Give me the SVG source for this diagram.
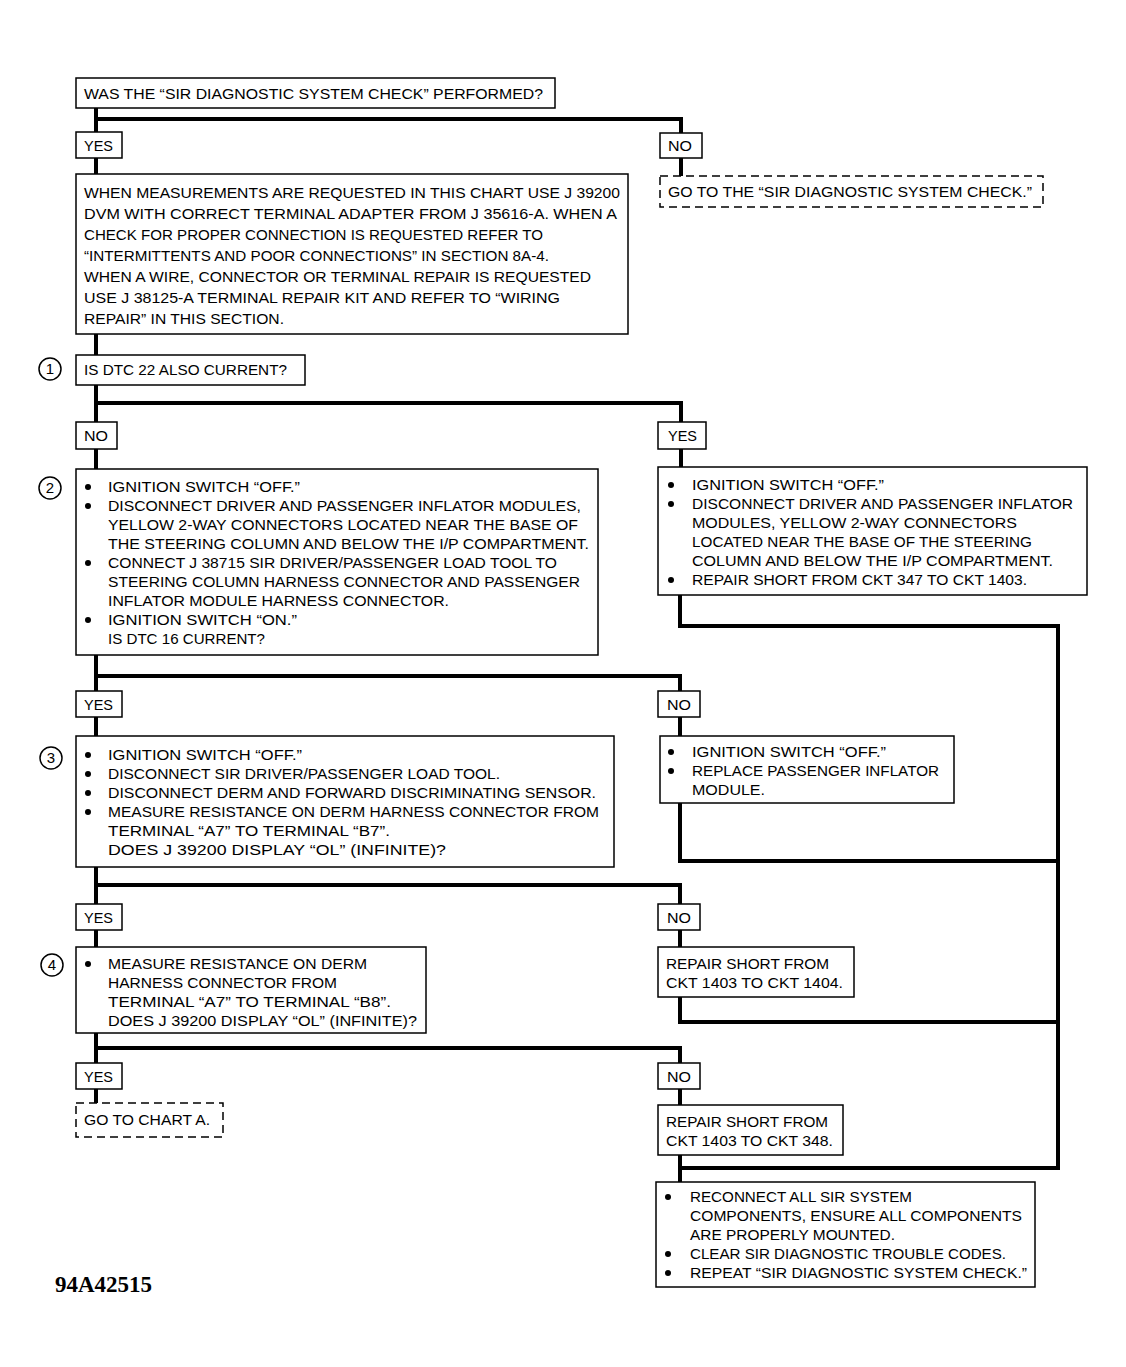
<svg xmlns="http://www.w3.org/2000/svg" width="1126" height="1367" viewBox="0 0 1126 1367">
<style>
.bx{fill:#fff;stroke:#000;stroke-width:1.5}
.ds{fill:#fff;stroke:#000;stroke-width:1.5;stroke-dasharray:8 5}
.t{font-family:"Liberation Sans",Arial,sans-serif;font-size:15px;fill:#000}
.c{stroke:#000;stroke-width:4;fill:none;stroke-linecap:square}
.cir{fill:#fff;stroke:#000;stroke-width:1.5}
.n{font-family:"Liberation Sans",Arial,sans-serif;font-size:15px;fill:#000;text-anchor:middle}
.id{font-family:"Liberation Serif","Times New Roman",serif;font-size:23px;font-weight:bold;fill:#000}
</style>
<rect width="1126" height="1367" fill="#fff"/>
<g id="connectors">
<path class="c" d="M96 108V132M96 158V174M96 334V355M96 385V422M96 449V469M96 655V691M96 717V736M96 867V904M96 930V947M96 1033V1063M96 1089V1103"/>
<path class="c" d="M96 119H681V133M681 158V176"/>
<path class="c" d="M96 403H681V422M681 449V467M680 595V626H1058V1168H680M680 1155V1182"/>
<path class="c" d="M96 676H680V691M680 717V736M680 803V861H1058"/>
<path class="c" d="M96 885H680V904M680 930V947M680 997V1022H1058"/>
<path class="c" d="M96 1048H680V1063M680 1089V1105"/>
</g>
<g id="q0"><rect class="bx" x="76" y="78" width="479" height="30"/><text class="t" x="84" y="99" textLength="459" lengthAdjust="spacingAndGlyphs">WAS THE “SIR DIAGNOSTIC SYSTEM CHECK” PERFORMED?</text></g>
<g id="yes0"><rect class="bx" x="76" y="132" width="46" height="26"/><text class="t" x="84" y="151" textLength="29" lengthAdjust="spacingAndGlyphs">YES</text></g>
<g id="no0"><rect class="bx" x="660" y="133" width="42" height="25"/><text class="t" x="668" y="151" textLength="24" lengthAdjust="spacingAndGlyphs">NO</text></g>
<g id="goto0"><rect class="ds" x="660" y="176" width="383" height="31"/><text class="t" x="668" y="197" textLength="364" lengthAdjust="spacingAndGlyphs">GO TO THE “SIR DIAGNOSTIC SYSTEM CHECK.”</text></g>
<g id="info"><rect class="bx" x="76" y="174" width="552" height="160"/>
<text class="t" x="84" y="198" textLength="536" lengthAdjust="spacingAndGlyphs">WHEN MEASUREMENTS ARE REQUESTED IN THIS CHART USE J 39200</text>
<text class="t" x="84" y="219" textLength="533" lengthAdjust="spacingAndGlyphs">DVM WITH CORRECT TERMINAL ADAPTER FROM J 35616-A.  WHEN A</text>
<text class="t" x="84" y="240" textLength="459" lengthAdjust="spacingAndGlyphs">CHECK FOR PROPER CONNECTION IS REQUESTED REFER TO</text>
<text class="t" x="84" y="261" textLength="465" lengthAdjust="spacingAndGlyphs">“INTERMITTENTS AND POOR CONNECTIONS” IN SECTION 8A-4.</text>
<text class="t" x="84" y="282" textLength="507" lengthAdjust="spacingAndGlyphs">WHEN A WIRE, CONNECTOR OR TERMINAL REPAIR IS REQUESTED</text>
<text class="t" x="84" y="303" textLength="476" lengthAdjust="spacingAndGlyphs">USE J 38125-A TERMINAL REPAIR KIT AND REFER TO “WIRING</text>
<text class="t" x="84" y="324" textLength="200" lengthAdjust="spacingAndGlyphs">REPAIR” IN THIS SECTION.</text>
</g>
<g id="step1"><circle class="cir" cx="50" cy="369" r="11"/><text class="n" x="50" y="374">1</text>
<rect class="bx" x="76" y="355" width="229" height="30"/><text class="t" x="84" y="375" textLength="203" lengthAdjust="spacingAndGlyphs">IS DTC 22 ALSO CURRENT?</text></g>
<g id="no1"><rect class="bx" x="76" y="422" width="41" height="27"/><text class="t" x="84" y="441" textLength="24" lengthAdjust="spacingAndGlyphs">NO</text></g>
<g id="yes1"><rect class="bx" x="658" y="422" width="48" height="27"/><text class="t" x="668" y="441" textLength="29" lengthAdjust="spacingAndGlyphs">YES</text></g>
<g id="step2"><circle class="cir" cx="50" cy="488" r="11"/><text class="n" x="50" y="493">2</text>
<rect class="bx" x="76" y="469" width="522" height="186"/>
<circle cx="88" cy="487" r="3"/><circle cx="88" cy="506" r="3"/><circle cx="88" cy="563" r="3"/><circle cx="88" cy="620" r="3"/>
<text class="t" x="108" y="492" textLength="192" lengthAdjust="spacingAndGlyphs">IGNITION SWITCH “OFF.”</text>
<text class="t" x="108" y="511" textLength="473" lengthAdjust="spacingAndGlyphs">DISCONNECT DRIVER AND PASSENGER INFLATOR MODULES,</text>
<text class="t" x="108" y="530" textLength="470" lengthAdjust="spacingAndGlyphs">YELLOW 2-WAY CONNECTORS LOCATED NEAR THE BASE OF</text>
<text class="t" x="108" y="549" textLength="481" lengthAdjust="spacingAndGlyphs">THE STEERING COLUMN AND BELOW THE I/P COMPARTMENT.</text>
<text class="t" x="108" y="568" textLength="449" lengthAdjust="spacingAndGlyphs">CONNECT J 38715 SIR DRIVER/PASSENGER LOAD TOOL TO</text>
<text class="t" x="108" y="587" textLength="472" lengthAdjust="spacingAndGlyphs">STEERING COLUMN HARNESS CONNECTOR AND PASSENGER</text>
<text class="t" x="108" y="606" textLength="341" lengthAdjust="spacingAndGlyphs">INFLATOR MODULE HARNESS CONNECTOR.</text>
<text class="t" x="108" y="625" textLength="189" lengthAdjust="spacingAndGlyphs">IGNITION SWITCH “ON.”</text>
<text class="t" x="108" y="644" textLength="157" lengthAdjust="spacingAndGlyphs">IS DTC 16 CURRENT?</text>
</g>
<g id="repair347"><rect class="bx" x="658" y="467" width="429" height="128"/>
<circle cx="671" cy="485" r="3"/><circle cx="671" cy="504" r="3"/><circle cx="671" cy="580" r="3"/>
<text class="t" x="692" y="490" textLength="192" lengthAdjust="spacingAndGlyphs">IGNITION SWITCH “OFF.”</text>
<text class="t" x="692" y="509" textLength="381" lengthAdjust="spacingAndGlyphs">DISCONNECT DRIVER AND PASSENGER INFLATOR</text>
<text class="t" x="692" y="528" textLength="325" lengthAdjust="spacingAndGlyphs">MODULES, YELLOW 2-WAY CONNECTORS</text>
<text class="t" x="692" y="547" textLength="340" lengthAdjust="spacingAndGlyphs">LOCATED NEAR THE BASE OF THE STEERING</text>
<text class="t" x="692" y="566" textLength="361" lengthAdjust="spacingAndGlyphs">COLUMN AND BELOW THE I/P COMPARTMENT.</text>
<text class="t" x="692" y="585" textLength="335" lengthAdjust="spacingAndGlyphs">REPAIR SHORT FROM CKT 347 TO CKT 1403.</text>
</g>
<g id="yes2"><rect class="bx" x="76" y="691" width="46" height="26"/><text class="t" x="84" y="710" textLength="29" lengthAdjust="spacingAndGlyphs">YES</text></g>
<g id="no2"><rect class="bx" x="658" y="691" width="42" height="26"/><text class="t" x="667" y="710" textLength="24" lengthAdjust="spacingAndGlyphs">NO</text></g>
<g id="step3"><circle class="cir" cx="51" cy="758" r="11"/><text class="n" x="51" y="763">3</text>
<rect class="bx" x="76" y="736" width="538" height="131"/>
<circle cx="88" cy="755" r="3"/><circle cx="88" cy="774" r="3"/><circle cx="88" cy="793" r="3"/><circle cx="88" cy="812" r="3"/>
<text class="t" x="108" y="760" textLength="194" lengthAdjust="spacingAndGlyphs">IGNITION SWITCH “OFF.”</text>
<text class="t" x="108" y="779" textLength="392" lengthAdjust="spacingAndGlyphs">DISCONNECT SIR DRIVER/PASSENGER LOAD TOOL.</text>
<text class="t" x="108" y="798" textLength="488" lengthAdjust="spacingAndGlyphs">DISCONNECT DERM AND FORWARD DISCRIMINATING SENSOR.</text>
<text class="t" x="108" y="817" textLength="491" lengthAdjust="spacingAndGlyphs">MEASURE RESISTANCE ON DERM HARNESS CONNECTOR FROM</text>
<text class="t" x="108" y="836" textLength="282" lengthAdjust="spacingAndGlyphs">TERMINAL “A7” TO TERMINAL “B7”.</text>
<text class="t" x="108" y="855" textLength="338" lengthAdjust="spacingAndGlyphs">DOES J 39200 DISPLAY “OL” (INFINITE)?</text>
</g>
<g id="replace"><rect class="bx" x="660" y="736" width="294" height="67"/>
<circle cx="671" cy="752" r="3"/><circle cx="671" cy="771" r="3"/>
<text class="t" x="692" y="757" textLength="194" lengthAdjust="spacingAndGlyphs">IGNITION SWITCH “OFF.”</text>
<text class="t" x="692" y="776" textLength="247" lengthAdjust="spacingAndGlyphs">REPLACE PASSENGER INFLATOR</text>
<text class="t" x="692" y="795" textLength="73" lengthAdjust="spacingAndGlyphs">MODULE.</text>
</g>
<g id="yes3"><rect class="bx" x="76" y="904" width="46" height="26"/><text class="t" x="84" y="923" textLength="29" lengthAdjust="spacingAndGlyphs">YES</text></g>
<g id="no3"><rect class="bx" x="658" y="904" width="42" height="26"/><text class="t" x="667" y="923" textLength="24" lengthAdjust="spacingAndGlyphs">NO</text></g>
<g id="step4"><circle class="cir" cx="52" cy="965" r="11"/><text class="n" x="52" y="970">4</text>
<rect class="bx" x="76" y="947" width="350" height="86"/>
<circle cx="88" cy="964" r="3"/>
<text class="t" x="108" y="969" textLength="259" lengthAdjust="spacingAndGlyphs">MEASURE RESISTANCE ON DERM</text>
<text class="t" x="108" y="988" textLength="229" lengthAdjust="spacingAndGlyphs">HARNESS CONNECTOR FROM</text>
<text class="t" x="108" y="1007" textLength="283" lengthAdjust="spacingAndGlyphs">TERMINAL “A7” TO TERMINAL “B8”.</text>
<text class="t" x="108" y="1026" textLength="309" lengthAdjust="spacingAndGlyphs">DOES J 39200 DISPLAY “OL” (INFINITE)?</text>
</g>
<g id="repair1404"><rect class="bx" x="658" y="947" width="196" height="50"/>
<text class="t" x="666" y="969" textLength="163" lengthAdjust="spacingAndGlyphs">REPAIR SHORT FROM</text>
<text class="t" x="666" y="988" textLength="177" lengthAdjust="spacingAndGlyphs">CKT 1403 TO CKT 1404.</text>
</g>
<g id="yes4"><rect class="bx" x="76" y="1063" width="46" height="26"/><text class="t" x="84" y="1082" textLength="29" lengthAdjust="spacingAndGlyphs">YES</text></g>
<g id="no4"><rect class="bx" x="658" y="1063" width="42" height="26"/><text class="t" x="667" y="1082" textLength="24" lengthAdjust="spacingAndGlyphs">NO</text></g>
<g id="chartA"><rect class="ds" x="76" y="1103" width="147" height="34"/><text class="t" x="84" y="1125" textLength="126" lengthAdjust="spacingAndGlyphs">GO TO CHART A.</text></g>
<g id="repair348"><rect class="bx" x="658" y="1105" width="185" height="50"/>
<text class="t" x="666" y="1127" textLength="162" lengthAdjust="spacingAndGlyphs">REPAIR SHORT FROM</text>
<text class="t" x="666" y="1146" textLength="167" lengthAdjust="spacingAndGlyphs">CKT 1403 TO CKT 348.</text>
</g>
<g id="final"><rect class="bx" x="656" y="1182" width="379" height="105"/>
<circle cx="668" cy="1197" r="3"/><circle cx="668" cy="1254" r="3"/><circle cx="668" cy="1273" r="3"/>
<text class="t" x="690" y="1202" textLength="222" lengthAdjust="spacingAndGlyphs">RECONNECT ALL SIR SYSTEM</text>
<text class="t" x="690" y="1221" textLength="332" lengthAdjust="spacingAndGlyphs">COMPONENTS, ENSURE ALL COMPONENTS</text>
<text class="t" x="690" y="1240" textLength="205" lengthAdjust="spacingAndGlyphs">ARE PROPERLY MOUNTED.</text>
<text class="t" x="690" y="1259" textLength="316" lengthAdjust="spacingAndGlyphs">CLEAR SIR DIAGNOSTIC TROUBLE CODES.</text>
<text class="t" x="690" y="1278" textLength="337" lengthAdjust="spacingAndGlyphs">REPEAT “SIR DIAGNOSTIC SYSTEM CHECK.”</text>
</g>
<text class="id" x="55" y="1292">94A42515</text>
</svg>
